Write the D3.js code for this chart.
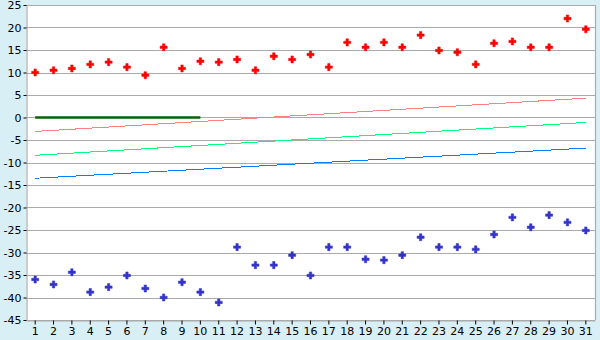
<!DOCTYPE html>
<html>
<head>
<meta charset="utf-8">
<script src="https://cdn.jsdelivr.net/npm/d3@7"></script>
<style>
  body { margin: 0; background: #d9eff6; }
  .chart text { font-family: 'DejaVu Sans', Verdana, sans-serif; font-size: 11px; fill: #000; }
</style>
</head>
<body>
<svg class="chart"></svg>
<script>
const days = d3.range(1, 32)
const highs = [10.0, 10.5, 10.9, 11.8, 12.3, 11.2, 9.4, 15.6, 10.9, 12.5,
  12.3, 12.9, 10.5, 13.6, 12.9, 14.0, 11.2, 16.7, 15.6, 16.7,
  15.6, 18.3, 14.9, 14.5, 11.8, 16.5, 16.9, 15.6, 15.6, 22.0, 19.6]
const lows = [-36.0, -37.1, -34.4, -38.8, -37.7, -35.1, -38.0, -40.0, -36.6, -38.8,
  -41.1, -28.8, -32.8, -32.8, -30.6, -35.1, -28.8, -28.8, -31.5, -31.7,
  -30.6, -26.6, -28.8, -28.8, -29.3, -26.0, -22.2, -24.4, -21.7, -23.3, -25.1]
// trend lines: [day, value] at both ends
const trendHigh = [[1, -3.1], [31, 4.3]]
const trendMid = [[1, -8.4], [31, -1.1]]
const trendLow = [[1, -13.5], [31, -6.8]]
const zeroLine = [[1, 0], [10, 0]]
const yTicks = d3.range(-45, 30, 5)

const width = 600
const height = 340
const margin = { top: 5, right: 5, bottom: 20, left: 26 }

const x = d3.scaleBand()
  .domain(days)
  .range([margin.left, width - margin.right])

const y = d3.scaleLinear()
  .domain([-45, 25])
  .range([height - margin.bottom, margin.top])

const chart = d3.select('.chart')
  .attr('width', width)
  .attr('height', height)

chart.append('rect')
  .attr('x', margin.left)
  .attr('y', margin.top)
  .attr('width', width - margin.left - margin.right)
  .attr('height', height - margin.top - margin.bottom)
  .attr('fill', '#fff')

// grid
chart.append('g')
  .selectAll('line')
  .data(yTicks)
  .enter()
  .append('line')
  .attr('x1', margin.left)
  .attr('x2', width - margin.right)
  .attr('y1', d => Math.round(y(d)) + 0.5)
  .attr('y2', d => Math.round(y(d)) + 0.5)
  .attr('stroke', '#aaa')
  .attr('stroke-width', 1.2)

// right border
chart.append('line')
  .attr('x1', width - margin.right + 0.5)
  .attr('x2', width - margin.right + 0.5)
  .attr('y1', margin.top)
  .attr('y2', height - margin.bottom)
  .attr('stroke', '#aaa')
  .attr('stroke-width', 1.2)

const yAxis = chart.append('g')
  .attr('transform', `translate(${margin.left + 0.5},0)`)
  .call(d3.axisLeft(y).tickValues(yTicks).tickSize(3).tickPadding(2).tickFormat(d3.format('d')))
yAxis.select('.domain').attr('stroke', '#aaa').attr('stroke-width', 1.2)
yAxis.selectAll('.tick line').attr('stroke', '#000')
yAxis.selectAll('.tick text').text(d => String(d))

const xAxis = chart.append('g')
  .attr('transform', `translate(0,${height - margin.bottom + 0.5})`)
  .call(d3.axisBottom(x).tickSize(4).tickPadding(3).tickSizeOuter(0))
xAxis.select('.domain').attr('stroke', '#aaa').attr('stroke-width', 1.2)
xAxis.selectAll('.tick line').attr('stroke', '#000')

const cx = d => x(d) + x.bandwidth() / 2
const line = d3.line().x(d => cx(d[0])).y(d => y(d[1]))

const lines = [
  { data: trendHigh, color: '#ff8080', w: 1 },
  { data: trendMid, color: '#00ff80', w: 1 },
  { data: trendLow, color: '#0080ff', w: 1 },
  { data: zeroLine, color: '#006400', w: 2.5 }
]
chart.append('g')
  .selectAll('path')
  .data(lines)
  .enter()
  .append('path')
  .attr('d', d => line(d.data))
  .attr('fill', 'none')
  .attr('stroke', d => d.color)
  .attr('stroke-width', d => d.w)
  .attr('shape-rendering', d => d.w === 1 ? 'crispEdges' : 'auto')

const marker = d3.symbol(d3.symbolCross).size(28)

chart.append('g')
  .selectAll('path')
  .data(highs)
  .enter()
  .append('path')
  .attr('transform', (d, i) => `translate(${cx(days[i])},${y(d)})`)
  .attr('d', marker)
  .attr('fill', '#ff0000')
  .attr('stroke', '#ff0000')
  .attr('stroke-width', 0.5)

chart.append('g')
  .selectAll('path')
  .data(lows)
  .enter()
  .append('path')
  .attr('transform', (d, i) => `translate(${cx(days[i])},${y(d)})`)
  .attr('d', marker)
  .attr('fill', '#3333cc')
  .attr('stroke', '#3333cc')
  .attr('stroke-width', 0.5)
</script>
</body>
</html>
